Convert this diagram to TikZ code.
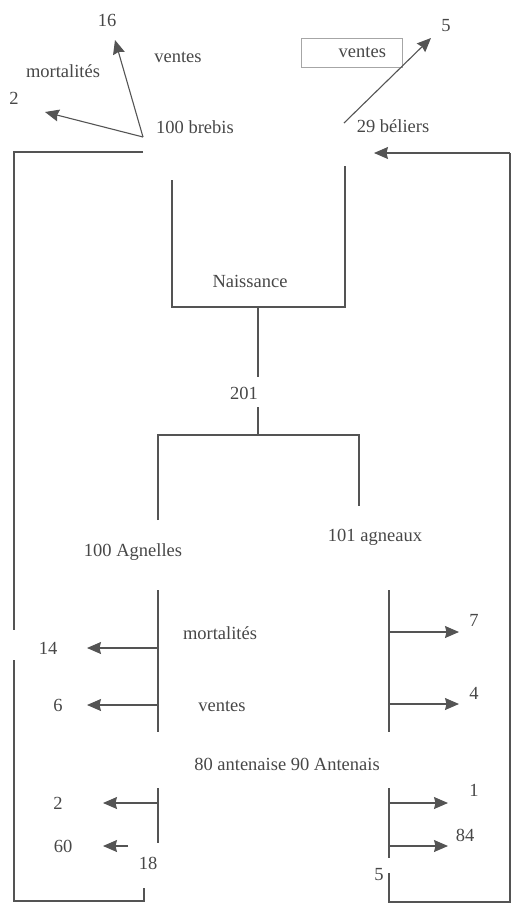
\documentclass[tikz,border=0pt]{standalone}
\usepackage{fontspec}
\setmainfont{Liberation Serif}
\usetikzlibrary{
  arrows.meta,
  positioning,
  calc
}
\definecolor{lineGray}{gray}{0.33}
\definecolor{textGray}{gray}{0.28}
\definecolor{boxGray}{gray}{0.65}
\tikzset{
  lbl/.style={
    text=textGray,
    inner sep = 0pt,
    font=\fontsize{18.5}{20}\selectfont
  },
  flow/.style={draw=lineGray, line width=1.1pt},
  flowarrow/.style={flow, -{Stealth[length=14pt,width=12pt,inset=1.5pt]}}
}

\begin{document}
\begin{tikzpicture}[x=1pt, y=-1pt]
    \useasboundingbox (0,0) rectangle (511,903);

    % top: brebis and beliers
    \node[lbl] (n16)     at (107,20)  {16};
    \node[lbl] (ventesA) at (178,57)  {ventes};
    \node[lbl] (mortA)   at (63,71)   {mortalités};
    \node[lbl] (n2a)     at (14,98)   {2};
    \node[lbl] (brebis)  at (195,127) {100 brebis};

    \node[lbl] (n5a)     at (446,26)  {5};
    \node[lbl, draw=boxGray, line width=0.8pt, minimum height=29pt,
      text width=69pt, inner xsep=16pt, align=right]
      (ventesB) at (351.5,52.5) {ventes};
    \node[lbl] (beliers) at (393,126) {29 béliers};

    \coordinate (brebisOut) at (143,137);
    \coordinate (tip16)     at (115,40);
    \coordinate (tip2a)     at (45,112);
    \coordinate (belOut)    at (344,123);
    \coordinate (tip5a)     at (431,38);

    \draw[flowarrow] (brebisOut) -- (tip16);
    \draw[flowarrow] (brebisOut) -- (tip2a);
    \draw[flowarrow] (belOut) -- (tip5a);

    % naissance
    \node[lbl] (naiss) at (250,281) {Naissance};
    \node[lbl] (n201)  at (244,393) {201};

    \coordinate (naissL) at (172,180);
    \coordinate (naissR) at (345,166);
    \draw[flow] (naissL) |- (naissR |- 0,307) -- (naissR);
    \draw[flow] (258,307) -- (258,377);
    \draw[flow] (258,407) -- (258,435);

    \node[lbl] (agnelles) at (133,552) {100 Agnelles};
    \node[lbl] (agneaux)  at (375,537) {101 agneaux};
    \coordinate (splitL) at (158,520);
    \coordinate (splitR) at (359,506);
    \draw[flow] (splitL) |- (splitR |- 0,435) -- (splitR);

    % agnelles / agneaux
    \node[lbl] (mortB)   at (220,633) {mortalités};
    \node[lbl] (ventesC) at (222,706) {ventes};
    \node[lbl] (n14)     at (48,648)  {14};
    \node[lbl] (n6)      at (58,705)  {6};
    \node[lbl] (n7)      at (474,620) {7};
    \node[lbl] (n4)      at (474,693) {4};
    \node[lbl] (anten)   at (287,764) {80 antenaise 90 Antenais};

    \draw[flow] (158,590) -- (158,732);
    \draw[flow] (389,590) -- (389,732);
    \foreach \y in {648,705}{
      \draw[flowarrow] (158,\y) -- (87,\y);
    }
    \foreach \y in {632,704}{
      \draw[flowarrow] (389,\y) -- (459,\y);
    }

    % antenaises / antenais
    \node[lbl] (n2b)  at (58,803)  {2};
    \node[lbl] (n60)  at (63,846)  {60};
    \node[lbl] (n18)  at (148,863) {18};
    \node[lbl] (n1)   at (474,790) {1};
    \node[lbl] (n84)  at (465,835) {84};
    \node[lbl] (n5b)  at (379,875) {5};

    \draw[flow] (158,788) -- (158,843);
    \draw[flow] (389,788) -- (389,858);
    \draw[flowarrow] (158,803) -- (103,803);
    \draw[flowarrow] (128,846) -- (103,846);
    \foreach \y in {803,846}{
      \draw[flowarrow] (389,\y) -- (448,\y);
    }

    % renewal loops
    \coordinate (loopL) at (144,888);
    \coordinate (loopR) at (389,873);
    \draw[flow] (143,152) -| (14,630);
    \draw[flow] (14,660) |- (loopL |- 0,901) -- (loopL);
    \draw[flow] (loopR) |- (510,902) -- (510,153);
    \draw[flowarrow] (510,153) -- (374,153);
\end{tikzpicture}
\end{document}
